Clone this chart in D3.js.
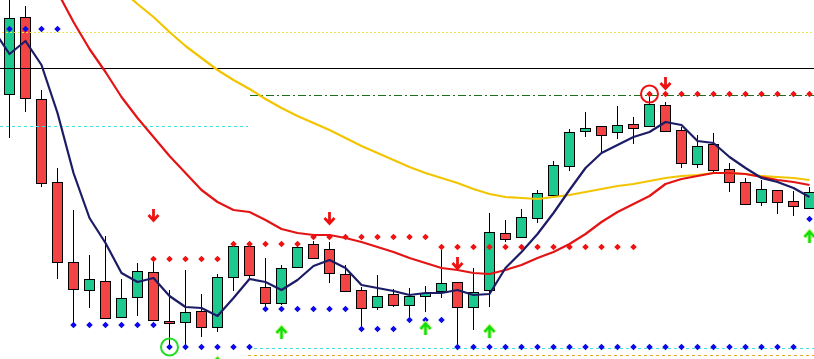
<!DOCTYPE html>
<html>
<head>
<meta charset="utf-8">
<script src="https://cdn.jsdelivr.net/npm/d3@7"></script>
<style>
    body { margin: 0; background: #ffffff; }
    svg { display: block; }
</style>
</head>
<body>
<svg id="chart"></svg>
<script>
// bar 0 sits just left of the visible window (only its averages show)
let openPrices  = [null, 1.0906, 1.0983, 1.0901, 1.0818, 1.0738, 1.0710, 1.0719, 1.0683, 1.0703, 1.0728, 1.0679, 1.0678, 1.0689, 1.0673, 1.0723, 1.0754, 1.0713, 1.0697, 1.0733, 1.0756, 1.0751, 1.0726, 1.0710, 1.0693, 1.0706, 1.0695, 1.0704, 1.0709, 1.0718, 1.0693, 1.0710, 1.0767, 1.0763, 1.0782, 1.0805, 1.0834, 1.0869, 1.0874, 1.0868, 1.0876, 1.0874, 1.0895, 1.0870, 1.0836, 1.0856, 1.0831, 1.0818, 1.0798, 1.0810, 1.0799, 1.0792];
let highPrices  = [null, 1.1005, 1.0994, 1.0910, 1.0832, 1.0790, 1.0745, 1.0764, 1.0721, 1.0737, 1.0738, 1.0710, 1.0730, 1.0706, 1.0726, 1.0756, 1.0756, 1.0742, 1.0735, 1.0754, 1.0759, 1.0758, 1.0735, 1.0713, 1.0725, 1.0711, 1.0712, 1.0714, 1.0754, 1.0718, 1.0732, 1.0787, 1.0780, 1.0791, 1.0810, 1.0839, 1.0871, 1.0888, 1.0874, 1.0894, 1.0883, 1.0903, 1.0898, 1.0873, 1.0865, 1.0867, 1.0837, 1.0822, 1.0820, 1.0810, 1.0809, 1.0813];
let lowPrices   = [null, 1.0862, 1.0888, 1.0813, 1.0721, 1.0675, 1.0692, 1.0681, 1.0682, 1.0684, 1.0680, 1.0655, 1.0653, 1.0663, 1.0668, 1.0709, 1.0722, 1.0690, 1.0695, 1.0733, 1.0742, 1.0717, 1.0709, 1.0672, 1.0690, 1.0693, 1.0682, 1.0688, 1.0702, 1.0653, 1.0670, 1.0693, 1.0758, 1.0762, 1.0777, 1.0803, 1.0829, 1.0863, 1.0847, 1.0861, 1.0856, 1.0873, 1.0868, 1.0832, 1.0832, 1.0827, 1.0808, 1.0796, 1.0794, 1.0786, 1.0784, 1.0792];
let closePrices = [null, 1.0982, 1.0902, 1.0817, 1.0738, 1.0711, 1.0721, 1.0682, 1.0702, 1.0729, 1.0680, 1.0677, 1.0688, 1.0673, 1.0723, 1.0754, 1.0725, 1.0697, 1.0732, 1.0753, 1.0742, 1.0727, 1.0709, 1.0692, 1.0704, 1.0695, 1.0704, 1.0707, 1.0717, 1.0693, 1.0708, 1.0768, 1.0761, 1.0783, 1.0807, 1.0835, 1.0868, 1.0872, 1.0865, 1.0875, 1.0872, 1.0896, 1.0869, 1.0837, 1.0854, 1.0830, 1.0818, 1.0796, 1.0811, 1.0798, 1.0794, 1.0808];

let maFast = [1.0970, 1.0946, 1.0959, 1.0935, 1.0887, 1.0827, 1.0782, 1.0757, 1.0727, 1.0718, 1.0722, 1.0704, 1.0693, 1.0692, 1.0684, 1.0702, 1.0721, 1.0718, 1.0710, 1.0720, 1.0734, 1.0740, 1.0732, 1.0715, 1.0712, 1.0709, 1.0705, 1.0707, 1.0707, 1.0710, 1.0705, 1.0706, 1.0732, 1.0748, 1.0766, 1.0787, 1.0810, 1.0832, 1.0847, 1.0855, 1.0863, 1.0868, 1.0878, 1.0875, 1.0859, 1.0857, 1.0843, 1.0832, 1.0822, 1.0818, 1.0812, 1.0803];
let maMid  = [1.1124, 1.1095, 1.1066, 1.1038, 1.1008, 1.0978, 1.0951, 1.0928, 1.0903, 1.0882, 1.0863, 1.0844, 1.0827, 1.0810, 1.0798, 1.0790, 1.0788, 1.0780, 1.0771, 1.0767, 1.0765, 1.0765, 1.0762, 1.0758, 1.0753, 1.0748, 1.0742, 1.0737, 1.0732, 1.0730, 1.0727, 1.0726, 1.0730, 1.0735, 1.0742, 1.0748, 1.0756, 1.0766, 1.0778, 1.0788, 1.0796, 1.0804, 1.0816, 1.0821, 1.0824, 1.0827, 1.0827, 1.0826, 1.0823, 1.0820, 1.0818, 1.0815];
let maSlow = [1.1122, 1.1108, 1.1094, 1.1080, 1.1066, 1.1052, 1.1038, 1.1024, 1.1010, 1.0996, 1.0983, 1.0968, 1.0954, 1.0942, 1.0930, 1.0920, 1.0911, 1.0901, 1.0892, 1.0884, 1.0877, 1.0870, 1.0862, 1.0854, 1.0847, 1.0840, 1.0833, 1.0827, 1.0822, 1.0817, 1.0811, 1.0806, 1.0803, 1.0802, 1.0801, 1.0803, 1.0805, 1.0808, 1.0811, 1.0814, 1.0816, 1.0819, 1.0822, 1.0824, 1.0825, 1.0827, 1.0827, 1.0826, 1.0824, 1.0823, 1.0822, 1.0820];

let supportDots = [null,
    1.0971, 1.0971, 1.0971, 1.0971,
    1.0675, 1.0675, 1.0675, 1.0675, 1.0675, 1.0675,
    1.0653, 1.0653, 1.0653, 1.0653, 1.0653, 1.0653,
    1.0691, 1.0691, 1.0691, 1.0691, 1.0691, 1.0691,
    1.0671, 1.0671, 1.0671,
    1.0680, 1.0680, 1.0680,
    1.0653, 1.0653, 1.0653, 1.0653, 1.0653, 1.0653, 1.0653, 1.0653, 1.0653, 1.0653, 1.0653,
    1.0653, 1.0653, 1.0653, 1.0653, 1.0653, 1.0653, 1.0653, 1.0653, 1.0653, 1.0653, 1.0653,
    1.0781];
let resistanceDots = [null,
    null, null, null, null, null, null, null, null, null,
    1.0741, 1.0741, 1.0741, 1.0741, 1.0741,
    1.0756, 1.0756, 1.0756, 1.0756, 1.0756,
    1.0763, 1.0763, 1.0763, 1.0763, 1.0763, 1.0763, 1.0763, 1.0763,
    1.0753, 1.0753, 1.0753, 1.0753, 1.0753, 1.0753, 1.0753, 1.0753, 1.0753, 1.0753, 1.0753, 1.0753, 1.0753,
    1.0906, 1.0906, 1.0906, 1.0906, 1.0906, 1.0906, 1.0906, 1.0906, 1.0906, 1.0906, 1.0906];

let sellBars   = [10, 21, 29, 42];
let sellPrices = [1.0785, 1.0782, 1.0737, 1.0917];
let buyBars    = [14, 18, 27, 31, 51];
let buyPrices  = [1.0636, 1.0667, 1.0671, 1.0668, 1.0763];

let levelPrices = [1.0968, 1.0932, 1.0905, 1.0874, 1.0652, 1.0645];
let levelFrom   = [0, 0, 16, 0, 15.9, 15.9];
let levelTo     = [52, 52, 52, 15.9, 52, 52];
let levelColors = ["#f3e34a", "#000000", "#1a701a", "#44dddd", "#44dddd", "#e3a42c"];
let levelDashes = ["2,2", null, "8,3,2,3", "3,3", "3,3", "3,3"];

let priceMin = 1.0641, priceMax = 1.1000;

function configuracion() {
    let ancho = 814, alto = 359;
    let contenedor = d3.select("#chart").attr("width", ancho).attr("height", alto);
    return { ancho, alto, contenedor };
}

function escalas(cfg) {
    let escalaX = d3.scaleLinear().domain([0, 51]).range([-6.5, 809.5]);
    let escalaY = d3.scaleLinear().domain([priceMin, priceMax]).range([cfg.alto, 0]);
    return { escalaX, escalaY };
}

function dibujarVelas(cfg, esc) {
    let { escalaX, escalaY } = esc;
    let velas = d3.range(openPrices.length)
        .filter(i => openPrices[i] != null)
        .map(i => ({ i, o: openPrices[i], h: highPrices[i], l: lowPrices[i], c: closePrices[i] }));

    let g = cfg.contenedor.append("g").attr("shape-rendering", "crispEdges");
    g.selectAll(".mecha").data(velas).enter().append("line")
        .attr("x1", d => escalaX(d.i)).attr("x2", d => escalaX(d.i))
        .attr("y1", d => Math.round(escalaY(d.h))).attr("y2", d => Math.round(escalaY(d.l)))
        .attr("stroke", "#000");

    g.selectAll(".cuerpo").data(velas).enter().append("rect")
        .attr("x", d => escalaX(d.i) - 5)
        .attr("width", 10)
        .attr("y", d => Math.round(escalaY(Math.max(d.o, d.c))) + 0.5)
        .attr("height", d => Math.max(1, Math.round(escalaY(Math.min(d.o, d.c))) - Math.round(escalaY(Math.max(d.o, d.c)))))
        .attr("fill", d => d.c >= d.o ? "#1ec990" : "#f24444")
        .attr("stroke", "#000");
}

function dibujarNiveles(cfg, esc) {
    let { escalaX, escalaY } = esc;
    let niveles = levelPrices.map((p, k) => ({ p, from: levelFrom[k], to: levelTo[k], color: levelColors[k], dash: levelDashes[k] }));
    cfg.contenedor.append("g").attr("shape-rendering", "crispEdges")
        .selectAll("line").data(niveles).enter().append("line")
        .attr("x1", d => escalaX(d.from)).attr("x2", d => escalaX(d.to))
        .attr("y1", d => Math.round(escalaY(d.p)) + 0.5).attr("y2", d => Math.round(escalaY(d.p)) + 0.5)
        .attr("stroke", d => d.color)
        .attr("stroke-dasharray", d => d.dash);
}

function dibujarMedias(cfg, esc) {
    let { escalaX, escalaY } = esc;
    let linea = d3.line().x((v, i) => escalaX(i)).y(v => escalaY(v));
    let series = [[maSlow, "#f2c500"], [maMid, "#e41414"], [maFast, "#1b1b66"]];
    cfg.contenedor.append("g").selectAll("path").data(series).enter().append("path")
        .attr("d", d => linea(d[0]))
        .attr("fill", "none")
        .attr("stroke", d => d[1])
        .attr("stroke-width", 2.2)
        .attr("stroke-linejoin", "round");
}

function dibujarPuntos(cfg, esc) {
    let { escalaX, escalaY } = esc;
    let rombo = d3.symbol().type(d3.symbolSquare).size(21);
    let puntos = [];
    supportDots.forEach((p, i) => { if (p != null) puntos.push({ i, p, color: "#0a0ae6" }); });
    resistanceDots.forEach((p, i) => { if (p != null) puntos.push({ i, p, color: "#ee1111" }); });
    cfg.contenedor.append("g").selectAll("path").data(puntos).enter().append("path")
        .attr("d", rombo)
        .attr("transform", d => `translate(${escalaX(d.i)},${escalaY(d.p)}) rotate(45)`)
        .attr("fill", d => d.color);
}

function dibujarFlechas(cfg, esc) {
    let { escalaX, escalaY } = esc;
    let g = cfg.contenedor.append("g");
    let abajo = (x, y) => `M${x},${y - 6}V${y + 5}M${x - 5},${y}L${x},${y + 5.5}L${x + 5},${y}`;
    let arriba = (x, y) => `M${x},${y + 6}V${y - 5}M${x - 5},${y}L${x},${y - 5.5}L${x + 5},${y}`;

    g.selectAll(".venta").data(sellBars).enter().append("path")
        .attr("d", (b, k) => abajo(escalaX(b), escalaY(sellPrices[k])))
        .attr("fill", "none").attr("stroke", "#ee1111").attr("stroke-width", 2.8);

    let compras = buyBars.map((b, k) => ({ b, p: buyPrices[k] }));
    g.selectAll(".halo").data(compras).enter().append("path")
        .attr("d", d => arriba(escalaX(d.b), escalaY(d.p)))
        .attr("fill", "none").attr("stroke", "#c8ff80").attr("stroke-width", 4.5);
    g.selectAll(".compra").data(compras).enter().append("path")
        .attr("d", d => arriba(escalaX(d.b), escalaY(d.p)))
        .attr("fill", "none").attr("stroke", "#11dd11").attr("stroke-width", 2.4);

    // circled signals
    g.append("circle").attr("cx", escalaX(11)).attr("cy", escalaY(supportDots[11])).attr("r", 8.5)
        .attr("fill", "none").attr("stroke", "#22dd22").attr("stroke-width", 2);
    g.append("circle").attr("cx", escalaX(41)).attr("cy", escalaY(resistanceDots[41])).attr("r", 8.5)
        .attr("fill", "none").attr("stroke", "#ee1111").attr("stroke-width", 2);
}

let cfg = configuracion();
let esc = escalas(cfg);
dibujarVelas(cfg, esc);
dibujarNiveles(cfg, esc);
dibujarMedias(cfg, esc);
dibujarPuntos(cfg, esc);
dibujarFlechas(cfg, esc);
</script>
</body>
</html>
